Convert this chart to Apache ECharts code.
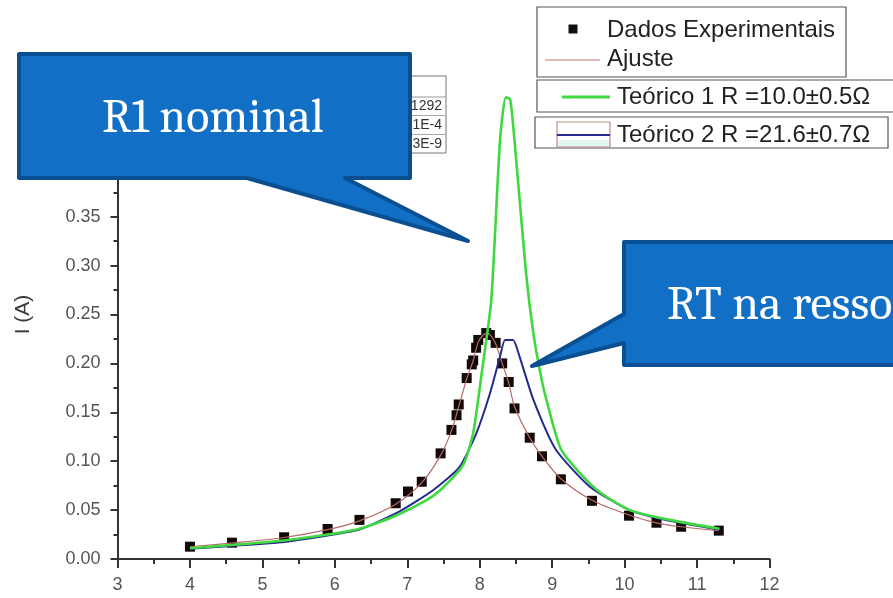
<!DOCTYPE html>
<html>
<head>
<meta charset="utf-8">
<title>Ressonância RLC</title>
<script src="https://cdn.jsdelivr.net/npm/echarts@6/dist/echarts.min.js"></script>
<style>
  html, body { margin: 0; padding: 0; background: #ffffff; }
  #chart { width: 893px; height: 598px; }
</style>
</head>
<body>
<div id="chart"></div>
<script>
// Frequência (kHz) e corrente (A) medidas
const expX = [4.00, 4.58, 5.30, 5.90, 6.34, 6.84, 7.01, 7.20, 7.46, 7.61, 7.68, 7.71, 7.82, 7.89, 7.91, 7.95, 7.98, 8.09, 8.14, 8.22, 8.31, 8.40, 8.48, 8.69, 8.86, 9.12, 9.55, 10.06, 10.44, 10.78, 11.30];
const expY = [0.0126, 0.0167, 0.0222, 0.0307, 0.040, 0.057, 0.069, 0.079, 0.108, 0.132, 0.147, 0.158, 0.185, 0.199, 0.203, 0.216, 0.224, 0.231, 0.229, 0.221, 0.200, 0.181, 0.154, 0.124, 0.105, 0.0815, 0.0595, 0.0443, 0.0371, 0.033, 0.029];

// Curva de ajuste
const fitX = [4.00, 4.60, 5.30, 5.90, 6.34, 6.84, 7.20, 7.46, 7.61, 7.71, 7.82, 7.91, 7.98, 8.05, 8.10, 8.16, 8.22, 8.31, 8.40, 8.48, 8.69, 8.86, 9.12, 9.55, 10.06, 10.44, 10.78, 11.30];
const fitY = [0.0125, 0.0165, 0.022, 0.030, 0.039, 0.056, 0.078, 0.106, 0.131, 0.156, 0.184, 0.203, 0.222, 0.229, 0.231, 0.228, 0.220, 0.200, 0.180, 0.156, 0.124, 0.105, 0.082, 0.060, 0.045, 0.037, 0.033, 0.029];

// Teórico 1: R = 10.0 Ω
const t1X = [4.00, 4.60, 5.30, 5.90, 6.34, 6.80, 7.26, 7.45, 7.77, 7.91, 8.04, 8.16, 8.28, 8.36, 8.42, 8.48, 8.64, 8.74, 8.85, 8.92, 9.13, 9.61, 10.07, 10.62, 11.31];
const t1Y = [0.011, 0.0145, 0.019, 0.025, 0.031, 0.043, 0.060, 0.070, 0.096, 0.129, 0.197, 0.265, 0.428, 0.472, 0.470, 0.428, 0.292, 0.231, 0.185, 0.163, 0.111, 0.071, 0.050, 0.040, 0.031];

// Teórico 2: R = 21.6 Ω
const t2X = [4.00, 4.60, 5.30, 5.90, 6.34, 6.90, 7.36, 7.72, 7.95, 8.14, 8.28, 8.35, 8.46, 8.55, 8.74, 9.05, 9.52, 10.07, 10.62, 11.31];
const t2Y = [0.0105, 0.0135, 0.0175, 0.024, 0.030, 0.049, 0.0706, 0.094, 0.128, 0.169, 0.207, 0.224, 0.224, 0.207, 0.163, 0.112, 0.074, 0.050, 0.039, 0.030];

// Marcas dos eixos
const xTicks = { min: 3, max: 12, step: 1 };
const yTicks = { min: 0, max: 0.5, step: 0.05 };

const legendNames = ['Dados Experimentais', 'Ajuste', 'Teórico 1 R =10.0\u00B10.5\u03A9', 'Teórico 2 R =21.6\u00B10.7\u03A9'];
const paramRows = ['1292', '1E-4', '3E-9'];
const calloutTexts = ['R1 nominal', 'RT na ressonância'];

const pairs = (xs, ys) => xs.map((x, i) => [x, ys[i]]);

const chart = echarts.init(document.getElementById('chart'), null, { renderer: 'canvas' });

const axisColor = '#333333';
const labelColor = '#555555';
const sans = 'Arial, "Liberation Sans", Helvetica, sans-serif';
const serif = 'Cambria, "Liberation Serif", "Times New Roman", serif';
const blueFill = '#1170c6';
const blueEdge = '#0b4f93';

const option = {
  backgroundColor: '#ffffff',
  animation: false,
  grid: { left: 117.5, right: 123.5, top: 70, bottom: 39, containLabel: false },
  xAxis: {
    type: 'value',
    min: xTicks.min, max: xTicks.max, interval: xTicks.step,
    axisLine: { show: true, lineStyle: { color: axisColor, width: 2 } },
    axisTick: { show: true, length: 9, lineStyle: { color: axisColor, width: 2 } },
    minorTick: { show: true, splitNumber: 2, length: 5, lineStyle: { color: axisColor, width: 2 } },
    splitLine: { show: false },
    axisLabel: { color: labelColor, fontFamily: sans, fontSize: 18, margin: 17 }
  },
  yAxis: {
    type: 'value',
    min: yTicks.min, max: yTicks.max, interval: yTicks.step,
    name: 'I (A)', nameLocation: 'middle', nameRotate: 90, nameGap: 84,
    nameTextStyle: { color: '#3a3a3a', fontFamily: sans, fontSize: 21 },
    axisLine: { show: true, lineStyle: { color: axisColor, width: 2 } },
    axisTick: { show: true, length: 7, lineStyle: { color: axisColor, width: 2 } },
    minorTick: { show: true, splitNumber: 2, length: 4, lineStyle: { color: axisColor, width: 2 } },
    splitLine: { show: false },
    axisLabel: { color: labelColor, fontFamily: sans, fontSize: 18, margin: 17, formatter: v => v.toFixed(2) }
  },
  series: [
    {
      name: legendNames[0], type: 'scatter', z: 2,
      symbol: 'rect', symbolSize: 10,
      itemStyle: { color: '#120808', opacity: 1 },
      data: pairs(expX, expY)
    },
    {
      name: legendNames[1], type: 'line', z: 3, showSymbol: false, smooth: 0.3,
      lineStyle: { color: '#b86a6a', width: 1.2 },
      data: pairs(fitX, fitY)
    },
    {
      name: legendNames[3], type: 'line', z: 4, showSymbol: false, smooth: 0.2,
      lineStyle: { color: '#262a8c', width: 2 },
      data: pairs(t2X, t2Y)
    },
    {
      name: legendNames[2], type: 'line', z: 5, showSymbol: false, smooth: 0.2,
      lineStyle: { color: '#40d840', width: 2.6 },
      data: pairs(t1X, t1Y)
    }
  ],
  graphic: [
    // legenda: dados + ajuste
    { type: 'rect', z: 50, shape: { x: 537, y: 7, width: 309, height: 70 },
      style: { fill: '#ffffff', stroke: '#555555', lineWidth: 1.2 } },
    { type: 'rect', z: 51, shape: { x: 568.5, y: 24.5, width: 9, height: 9 }, style: { fill: '#111111' } },
    { type: 'text', z: 51, x: 607, y: 30,
      style: { text: legendNames[0], fill: '#222222', font: '24px ' + sans, textVerticalAlign: 'middle' } },
    { type: 'line', z: 51, shape: { x1: 545, y1: 60, x2: 600, y2: 60 }, style: { stroke: '#c07a7a', lineWidth: 1.2 } },
    { type: 'text', z: 51, x: 607, y: 59,
      style: { text: legendNames[1], fill: '#222222', font: '24px ' + sans, textVerticalAlign: 'middle' } },
    // legenda: teórico 1
    { type: 'rect', z: 50, shape: { x: 537, y: 80, width: 370, height: 32 },
      style: { fill: '#ffffff', stroke: '#555555', lineWidth: 1.2 } },
    { type: 'line', z: 51, shape: { x1: 562, y1: 97, x2: 610, y2: 97 }, style: { stroke: '#40d840', lineWidth: 3 } },
    { type: 'text', z: 51, x: 617, y: 97,
      style: { text: legendNames[2], fill: '#222222', font: '24px ' + sans, textVerticalAlign: 'middle' } },
    // legenda: teórico 2
    { type: 'rect', z: 50, shape: { x: 535, y: 117, width: 353, height: 31 },
      style: { fill: '#ffffff', stroke: '#555555', lineWidth: 1.2 } },
    { type: 'rect', z: 51, shape: { x: 557, y: 140, width: 53, height: 7 }, style: { fill: '#e2f6f4' } },
    { type: 'rect', z: 51, shape: { x: 557, y: 122, width: 53, height: 25 },
      style: { fill: 'none', stroke: '#c08a8a', lineWidth: 1.2 } },
    { type: 'line', z: 52, shape: { x1: 557, y1: 135, x2: 610, y2: 135 }, style: { stroke: '#262a8c', lineWidth: 2 } },
    { type: 'text', z: 51, x: 617, y: 135,
      style: { text: legendNames[3], fill: '#222222', font: '24px ' + sans, textVerticalAlign: 'middle' } },
    // tabela de parâmetros do ajuste
    { type: 'rect', z: 40, shape: { x: 390, y: 76, width: 56, height: 77 },
      style: { fill: '#ffffff', stroke: '#777777', lineWidth: 1 } },
    { type: 'line', z: 41, shape: { x1: 390, y1: 97, x2: 446, y2: 97 }, style: { stroke: '#999999', lineWidth: 1 } },
    { type: 'line', z: 41, shape: { x1: 390, y1: 115.5, x2: 446, y2: 115.5 }, style: { stroke: '#aaaaaa', lineWidth: 1 } },
    { type: 'line', z: 41, shape: { x1: 390, y1: 134.5, x2: 446, y2: 134.5 }, style: { stroke: '#aaaaaa', lineWidth: 1 } },
    { type: 'text', z: 41, x: 442, y: 106,
      style: { text: paramRows[0], fill: '#333333', font: '14px ' + sans, textAlign: 'right', textVerticalAlign: 'middle' } },
    { type: 'text', z: 41, x: 442, y: 125,
      style: { text: paramRows[1], fill: '#333333', font: '14px ' + sans, textAlign: 'right', textVerticalAlign: 'middle' } },
    { type: 'text', z: 41, x: 442, y: 144,
      style: { text: paramRows[2], fill: '#333333', font: '14px ' + sans, textAlign: 'right', textVerticalAlign: 'middle' } },
    // balão 1
    { type: 'polygon', z: 100,
      shape: { points: [[19, 54], [410, 54], [410, 178], [345, 178], [468, 241], [247, 178], [19, 178]] },
      style: { fill: blueFill, stroke: blueEdge, lineWidth: 4, lineJoin: 'round' } },
    { type: 'text', z: 101, x: 102, y: 118,
      style: { text: calloutTexts[0], fill: '#ffffff', font: '48px ' + serif, textVerticalAlign: 'middle' } },
    // balão 2
    { type: 'polygon', z: 100,
      shape: { points: [[624, 242], [905, 242], [905, 365], [624, 365], [624, 343], [532, 366], [624, 314]] },
      style: { fill: blueFill, stroke: blueEdge, lineWidth: 4, lineJoin: 'round' } },
    { type: 'text', z: 101, x: 667, y: 305,
      style: { text: calloutTexts[1], fill: '#ffffff', font: '48px ' + serif, textVerticalAlign: 'middle' } }
  ]
};

chart.setOption(option);
</script>
</body>
</html>
